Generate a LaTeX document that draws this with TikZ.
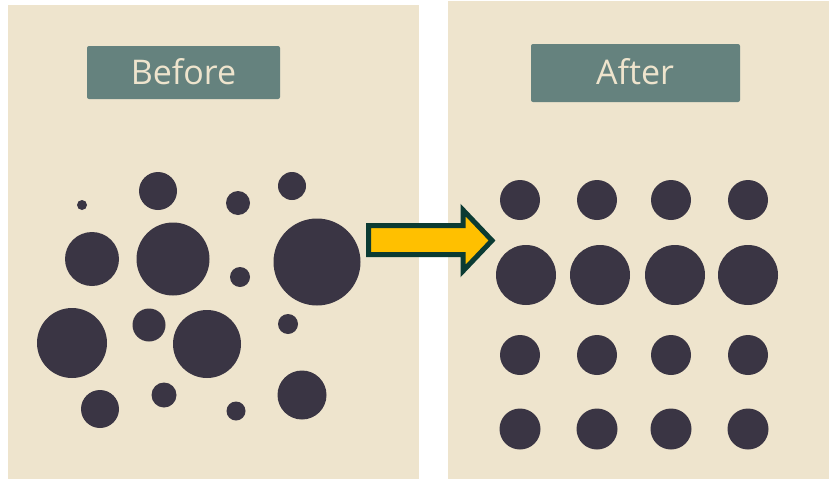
\documentclass[tikz,border=0pt]{standalone}
\usepackage{fontspec}
\setmainfont{Open Sans}
\definecolor{bg}{HTML}{EEE4CD}
\definecolor{dot}{HTML}{3A3544}
\definecolor{label}{HTML}{65827E}
\definecolor{arrowfill}{HTML}{FFC000}
\definecolor{arrowline}{HTML}{0B3B33}
\begin{document}
\begin{tikzpicture}[x=1pt,y=-1pt,
  panel/.style={fill=bg,draw=none},
  tag/.style={fill=label,rounded corners=2pt,text=bg,font=\fontsize{34}{40}\selectfont,inner sep=0pt,anchor=center},
  dotnode/.style={circle,fill=dot,draw=none,inner sep=0pt,minimum size=#1},
  bigarrow/.style={fill=arrowfill,draw=arrowline,line width=5pt,line join=miter}]
\useasboundingbox (0,0) rectangle (829,479);
\fill[white] (0,0) rectangle (829,479);
% panels
\path[panel] (8,5) rectangle (419,479);
\path[panel] (448,1) rectangle (829,479);
% labels
\path[tag] (87,46) rectangle (280,99);
\node[text=bg,font=\fontsize{34}{40}\selectfont] (before) at (183.5,71.5) {Before};
\path[tag] (531,44) rectangle (740,102);
\node[text=bg,font=\fontsize{34}{40}\selectfont] (after) at (635,72) {After};
% left dots
\node[dotnode=10pt] (l1) at (82,205) {};
\node[dotnode=38pt] (l2) at (158,191) {};
\node[dotnode=24pt] (l3) at (238,203) {};
\node[dotnode=28pt] (l4) at (292,186) {};
\node[dotnode=54pt] (l5) at (92,259) {};
\node[dotnode=73pt] (l6) at (173,259) {};
\node[dotnode=20pt] (l7) at (240,277) {};
\node[dotnode=87pt] (l8) at (317,262) {};
\node[dotnode=70pt] (l9) at (72,343) {};
\node[dotnode=33pt] (l10) at (149,325) {};
\node[dotnode=68pt] (l11) at (207,344) {};
\node[dotnode=20pt] (l12) at (288,324) {};
\node[dotnode=38pt] (l13) at (100,409) {};
\node[dotnode=25pt] (l14) at (164,395) {};
\node[dotnode=19pt] (l15) at (236,411) {};
\node[dotnode=49pt] (l16) at (302,395) {};
% right dots
\foreach \x [count=\i] in {520,597,671,748}{
  \node[dotnode=40pt] (ra\i) at (\x,200) {};
  \node[dotnode=40pt] (rc\i) at (\x,355) {};
  \node[dotnode=41pt] (rd\i) at (\x,429) {};
}
\foreach \x [count=\i] in {526,600,675,748}{
  \node[dotnode=60pt] (rb\i) at (\x,275) {};
}
% arrow
\path[bigarrow] (368.5,225.5) -- (463,225.5) -- (463,210) -- (492,240.5) -- (463,271) -- (463,254.5) -- (368.5,254.5) -- cycle;
\end{tikzpicture}
\end{document}
